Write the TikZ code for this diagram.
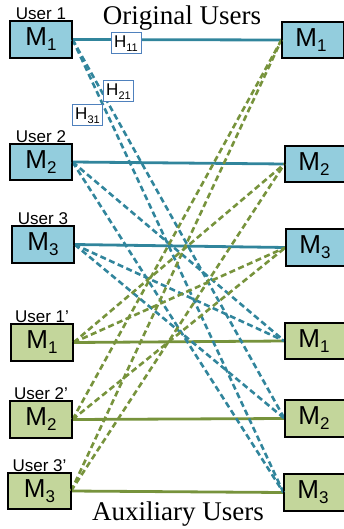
\documentclass[tikz,border=0pt]{standalone}
\usepackage{fontspec}
\setmainfont{Liberation Serif}
\setsansfont{Liberation Sans}
\usetikzlibrary{positioning}

\definecolor{boxblue}{HTML}{93CDDD}
\definecolor{boxgreen}{HTML}{C3D69B}
\definecolor{linkblue}{HTML}{31859C}
\definecolor{linkgreen}{HTML}{77933C}
\definecolor{labblue}{HTML}{4F81BD}

\newcommand{\Mbox}[1]{\fontsize{26}{26}\selectfont M\raisebox{-5pt}{\fontsize{17}{17}\selectfont #1}}
\newcommand{\Hlab}[1]{\fontsize{17}{17}\selectfont H\raisebox{-4pt}{\fontsize{11}{11}\selectfont #1}}

\tikzset{
  origbox/.style={draw=black,line width=1.1pt,fill=boxblue,minimum width=62pt,minimum height=36pt,inner sep=0pt,font=\sffamily},
  auxbox/.style={origbox,fill=boxgreen},
  userlab/.style={font=\sffamily\fontsize{17}{17}\selectfont,inner sep=1pt,anchor=south},
  hbox/.style={draw=labblue,line width=1pt,fill=white,minimum width=30pt,minimum height=21pt,inner sep=0pt,font=\sffamily},
  solidblue/.style={draw=linkblue,line width=2.8pt},
  solidgreen/.style={draw=linkgreen,line width=2.8pt},
  dashblue/.style={draw=linkblue,line width=2.6pt,dash pattern=on 6pt off 3.5pt},
  dashgreen/.style={draw=linkgreen,line width=2.6pt,dash pattern=on 6pt off 3.5pt}
}

\begin{document}
\begin{tikzpicture}[x=1pt,y=-1pt]
\useasboundingbox (0,0) rectangle (343,529);

% Left column
  \node[origbox] (ol1) at (41,39.5)  {\Mbox{1}};
  \node[origbox] (ol2) at (41,162)   {\Mbox{2}};
  \node[origbox] (ol3) at (43,244.5) {\Mbox{3}};
  \node[auxbox]  (al1) at (42,342.5) {\Mbox{1}};
  \node[auxbox]  (al2) at (41,419.5) {\Mbox{2}};
  \node[auxbox]  (al3) at (39.5,491) {\Mbox{3}};
% Right column
  \node[origbox] (or1) at (313,40)    {\hspace*{-4pt}\Mbox{1}};
  \node[origbox] (or2) at (316,164)   {\hspace*{-4pt}\Mbox{2}};
  \node[origbox] (or3) at (317,247.5) {\hspace*{-4pt}\Mbox{3}};
  \node[auxbox]  (ar1) at (316,341)   {\hspace*{-4pt}\Mbox{1}};
  \node[auxbox]  (ar2) at (316,418.5) {\hspace*{-4pt}\Mbox{2}};
  \node[auxbox]  (ar3) at (315,492.5) {\hspace*{-4pt}\Mbox{3}};

% User labels
  \node[userlab] at (ol1.north) {User 1};
  \node[userlab] at (ol2.north) {User 2};
  \node[userlab] at (ol3.north) {User 3};
  \node[userlab] at (al1.north) {User 1'};
  \node[userlab] at (al2.north) {User 2'};
  \node[userlab] at (al3.north) {User 3'};

  \node[font=\fontsize{27}{27}\selectfont,anchor=base] (orig) at (182,25) {Original Users};
  \node[font=\fontsize{27}{27}\selectfont,anchor=base] (aux) at (178,520) {Auxiliary Users};

% Links
  \begin{scope}
    %direct
    \draw[solidblue] (ol1.east) -- (or1.west);
    \draw[solidblue] (ol2.east) -- (or2.west);
    \draw[solidblue] (ol3.east) -- (or3.west);
    \draw[solidgreen] (al1.east) -- (ar1.west);
    \draw[solidgreen] (al2.east) -- (ar2.west);
    \draw[solidgreen] (al3.east) -- (ar3.west);
    %cross, original to auxiliary
    \draw[dashblue] (ol1.east) -- (ar2.west);
    \draw[dashblue] (ol1.east) -- (ar3.west);
    \draw[dashblue] (ol2.east) -- (ar1.west);
    \draw[dashblue] (ol2.east) -- (ar3.west);
    \draw[dashblue] (ol3.east) -- (ar1.west);
    \draw[dashblue] (ol3.east) -- (ar2.west);
    %cross, auxiliary to original
    \draw[dashgreen] (al1.east) -- (or2.west);
    \draw[dashgreen] (al1.east) -- (or3.west);
    \draw[dashgreen] (al2.east) -- (or1.west);
    \draw[dashgreen] (al2.east) -- (or3.west);
    \draw[dashgreen] (al3.east) -- (or1.west);
    \draw[dashgreen] (al3.east) -- (or2.west);
  \end{scope}

% Redraw boxes over line ends
  \foreach \n in {ol1,ol2,ol3,al1,al2,al3,or1,or2,or3,ar1,ar2,ar3} {
    \draw[line width=1.1pt] (\n.south west) rectangle (\n.north east);
  }

% Channel labels
  \node[hbox] (h11) at (126,43.5)  {\Hlab{11}};
  \node[hbox] (h21) at (118.5,91.5) {\Hlab{21}};
  \node[hbox] (h31) at (87.5,115.5) {\Hlab{31}};

\end{tikzpicture}
\end{document}
